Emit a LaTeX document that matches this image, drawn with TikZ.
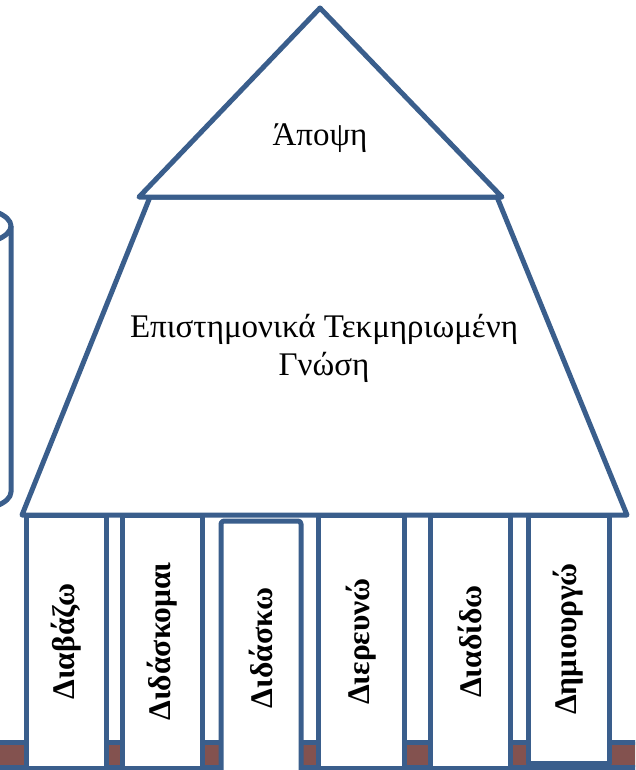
\documentclass[tikz,border=0pt]{standalone}
\usepackage{fontspec}
\setmainfont{Liberation Serif}
\definecolor{frameblue}{HTML}{3A5E8C}
\definecolor{brickred}{HTML}{83524F}
\tikzset{
	outline/.style={draw=frameblue, line width=5pt, line join=round},
	pillar/.style={outline, fill=white, rotate=90, minimum height=80pt, inner sep=0pt,
		font=\fontsize{31.5}{38}\selectfont\bfseries},
	label/.style={font=\fontsize{33}{38}\selectfont, align=center, inner sep=0pt}
}
\begin{document}
\begin{tikzpicture}[x=1pt, y=-1pt]
		\useasboundingbox (0,0) rectangle (635,770);
		\clip (0,0) rectangle (635,770);
		
		% cylinder on the left
		\draw[outline] (-40,226) ellipse [x radius=51, y radius=20];
		\draw[outline] (11,226) -- (11,492) arc[start angle=0, end angle=180, x radius=51, y radius=20] -- (-91,226);
		
		% floor strip
		\filldraw[outline, fill=brickred] (-10,742) rectangle (645,767);
		
		% columns
		\node[pillar, minimum width=253pt] (read) at (66,641.5) {Διαβάζω};
		\node[pillar, minimum width=253pt] (learn) at (162,641.5) {Διδάσκομαι};
		\node[pillar, minimum width=254pt, rounded corners=3pt] (teach) at (261,648) {Διδάσκω};
		\node[pillar, minimum width=253pt, minimum height=86pt] (explore) at (361,641.5) {Διερευνώ};
		\node[pillar, minimum width=253pt] (spread) at (470,641.5) {Διαδίδω};
		\node[pillar, minimum width=248pt, minimum height=81pt] (create) at (568.5,639) {Δημιουργώ};
		
		% body of the temple
		\filldraw[outline, fill=white] (150,197) -- (497,197) -- (627,515) -- (22,515) -- cycle;
		
		% roof
		\filldraw[outline, fill=white] (139,197) -- (320,8) -- (502,197) -- cycle;
		
		% texts
		\node[label] (opinion) at (320,138) {Άποψη};
		\node[label] (knowledge) at (324,348) {Επιστημονικά Τεκμηριωμένη\\Γνώση};
		
\end{tikzpicture}
\end{document}
